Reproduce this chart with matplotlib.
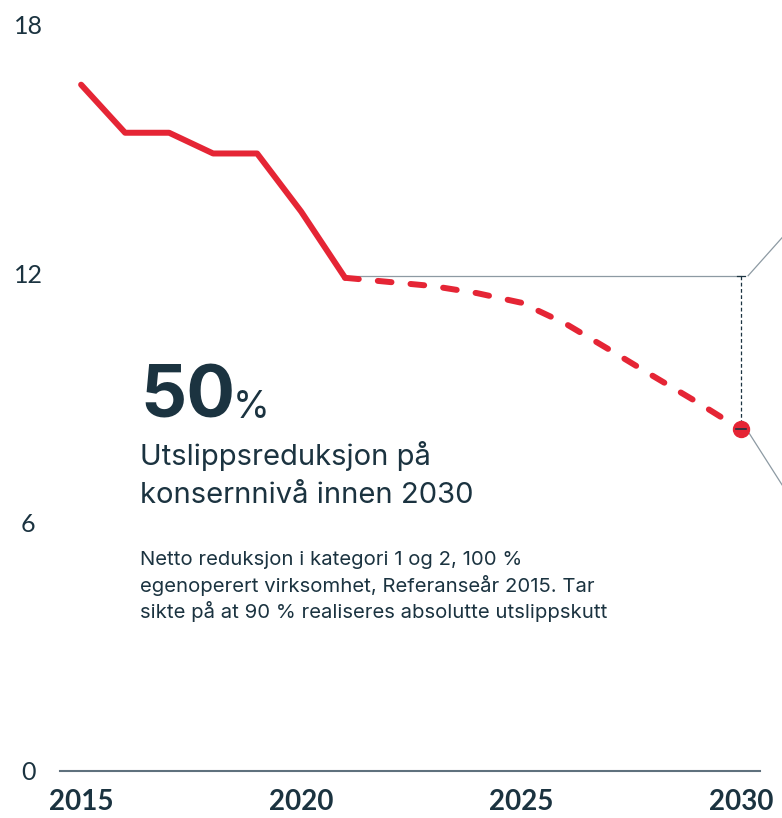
import matplotlib.pyplot as plt

# data
years_actual = [2015, 2016, 2017, 2018, 2019, 2020, 2021]
emissions_actual = [16.56, 15.4, 15.4, 14.9, 14.9, 13.5, 11.9]
years_target = [2021, 2022, 2023, 2024, 2025, 2026, 2027, 2028, 2029, 2030]
emissions_target = [11.9, 11.8, 11.7, 11.53, 11.3, 10.8, 10.17, 9.53, 8.9, 8.24]
x_ticks = [2015, 2020, 2025, 2030]
y_ticks = [0, 6, 12, 18]

red = '#e52535'
navy = '#1b3340'
grey = '#8d9aa3'

plt.rcParams['font.family'] = ['Lato', 'DejaVu Sans']

fig = plt.figure(figsize=(7.82, 8.18), dpi=100)
W, H = 782, 818
ax = fig.add_axes([60 / W, 1 - 771 / H, 700 / W, 746 / H])
ax.set_xlim(2014.52, 2030.43)
ax.set_ylim(0, 18)

# actual emissions and target path
ax.plot(years_actual, emissions_actual, color=red, lw=4.3, solid_joinstyle='round',
        solid_capstyle='round', zorder=4)
ax.plot(years_target, emissions_target, color=red, lw=4.3, dashes=(2.3, 3.2),
        dash_capstyle='round', zorder=4)

# reference level (2021) and reduction marker
y_ref = emissions_target[0] + 0.05
y_end = emissions_target[-1]
x_end = years_target[-1]
ax.plot([years_target[0], x_end], [y_ref, y_ref], color=grey, lw=0.9, zorder=2)
ax.plot([x_end, x_end], [y_ref, y_end], color=navy, lw=0.9, dashes=(3, 2), zorder=3)
ax.plot([x_end - 0.1, x_end + 0.1], [y_ref, y_ref], color=navy, lw=0.9, zorder=3)
ax.plot(x_end, y_end, 'o', color=red, ms=11.5, zorder=5)
ax.plot([x_end - 0.12, x_end + 0.12], [y_end, y_end], color=navy, lw=1.2, zorder=6)

# connector lines going off to the right
ax.plot([x_end + 0.16, x_end + 1.0], [y_ref, y_ref + 1.0], color=grey, lw=0.9, clip_on=False)
ax.plot([x_end + 0.16, x_end + 1.0], [y_end - 0.05, y_end - 1.45], color=grey, lw=0.9, clip_on=False)

# axes styling
for s in ['top', 'right', 'left']:
    ax.spines[s].set_visible(False)
ax.spines['bottom'].set_color('#5f717d')
ax.spines['bottom'].set_linewidth(1.5)
ax.set_xticks(x_ticks)
ax.set_xticklabels([str(x) for x in x_ticks], fontsize=20, fontweight='bold', color=navy)
ax.set_yticks(y_ticks)
ax.set_yticklabels([str(y) for y in y_ticks], fontsize=18, color=navy, ha='center')
ax.tick_params(axis='x', length=0, pad=13)
ax.tick_params(axis='y', length=0, pad=23)

# annotation text
txt = ['Inter', 'DejaVu Sans']
fig.text(140 / W, 1 - 418 / H, '50', fontsize=52, fontweight='bold', color=navy, family=txt)
fig.text(233 / W, 1 - 418 / H, '%', fontsize=27, color=navy, family=txt)
fig.text(140 / W, 1 - 465 / H, 'Utslippsreduksjon på', fontsize=21, color=navy, family=txt)
fig.text(140 / W, 1 - 503 / H, 'konsernnivå innen 2030', fontsize=21, color=navy, family=txt)
small = ['Netto reduksjon i kategori 1 og 2, 100 %',
         'egenoperert virksomhet, Referanseår 2015. Tar',
         'sikte på at 90 % realiseres absolutte utslippskutt']
for i, line in enumerate(small):
    fig.text(140 / W, 1 - (565 + 26.5 * i) / H, line, fontsize=14.6, color=navy, family=txt)

fig.savefig('out.png', dpi=100)
